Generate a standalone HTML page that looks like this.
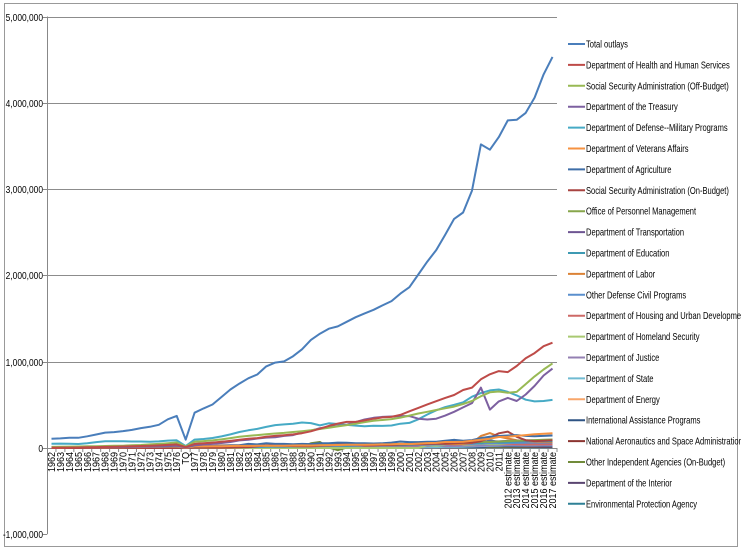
<!DOCTYPE html>
<html><head><meta charset="utf-8"><style>
body{margin:0;background:#fff;}
svg{display:block;font-family:"Liberation Sans",sans-serif;}
</style></head><body>
<svg id="chart" width="741" height="551" viewBox="0 0 741 551" xmlns="http://www.w3.org/2000/svg">
<rect x="4.5" y="3.5" width="733" height="543" fill="#fff" stroke="#999"/>
<g id="grid"></g><g id="yaxis"></g><g id="xaxis"></g><g id="series"></g><g id="legend"></g>
</svg>
<script>
const categories=["1962","1963","1964","1965","1966","1967","1968","1969","1970","1971","1972","1973","1974","1975","1976","TQ","1977","1978","1979","1980","1981","1982","1983","1984","1985","1986","1987","1988","1989","1990","1991","1992","1993","1994","1995","1996","1997","1998","1999","2000","2001","2002","2003","2004","2005","2006","2007","2008","2009","2010","2011","2012 estimate","2013 estimate","2014 estimate","2015 estimate","2016 estimate","2017 estimate"];
const yTicks=[-1000000,0,1000000,2000000,3000000,4000000,5000000];
const yTickLabels=["-1,000,000","0","1,000,000","2,000,000","3,000,000","4,000,000","5,000,000"];
const seriesNames=["Total outlays","Department of Health and Human Services","Social Security Administration (Off-Budget)","Department of the Treasury","Department of Defense--Military Programs","Department of Veterans Affairs","Department of Agriculture","Social Security Administration (On-Budget)","Office of Personnel Management","Department of Transportation","Department of Education","Department of Labor","Other Defense Civil Programs","Department of Housing and Urban Development","Department of Homeland Security","Department of Justice","Department of State","Department of Energy","International Assistance Programs","National Aeronautics and Space Administration","Other Independent Agencies (On-Budget)","Department of the Interior","Environmental Protection Agency"];
const seriesColors=["#4A7EBB","#BE4B48","#98B954","#7D60A0","#46AAC5","#F69240","#3E6EA8","#A84441","#87A64B","#6E5592","#3D9AB3","#DB8236","#5A8FCD","#CD6966","#A9C971","#9480B3","#70BBD2","#F8A66A","#2E5384","#8B3430","#718B3A","#5A4571","#2F8096"];
const s_total=[107,111,119,118,135,157,178,184,196,210,231,246,269,332,372,96,409,459,504,591,678,746,808,852,946,990,1004,1064,1144,1253,1324,1382,1409,1462,1516,1560,1601,1652,1702,1789,1863,2011,2160,2293,2472,2655,2729,2983,3518,3456,3603,3796,3803,3883,4060,4329,4532];
const s_hhs=[4,5,5,6,8,11,13,15,17,20,23,26,30,36,42,11,48,56,63,72,82,95,108,115,130,140,148,158,172,194,224,256,283,303,303,320,340,355,360,383,425,465,505,542,580,614,672,700,796,854,891,880,950,1040,1100,1180,1220];
const s_ssoff=[13,15,16,17,20,21,23,25,27,32,35,42,48,56,64,17,72,80,88,100,115,130,140,150,160,168,175,185,195,205,220,235,250,265,282,300,315,325,335,352,375,400,420,440,460,480,510,545,600,645,655,640,650,740,830,910,980];
const s_treas=[6,7,7,8,8,9,10,11,12,13,14,15,18,22,25,7,30,40,48,58,70,88,95,110,120,125,140,150,180,200,230,245,255,270,300,330,350,360,365,370,370,340,330,340,375,420,470,520,700,445,540,580,545,620,720,840,920];
const s_def=[50,51,50,46,54,68,78,79,78,75,75,73,77,86,89,22,97,104,116,134,158,185,205,221,245,265,274,281,295,289,262,286,278,268,259,253,258,256,261,281,291,332,388,437,474,499,528,595,636,667,678,650,610,560,540,545,557];
function smallSeries(a){return a;}
const s_va=[5,5,6,6,6,7,7,8,9,10,11,12,14,17,18,4,18,19,20,21,23,24,24,26,27,26,27,29,30,29,31,34,35,37,38,37,39,42,43,47,45,51,57,59,70,70,73,85,96,108,127,130,140,150,160,165,170];
const s_agri=[7,8,9,9,8,8,9,10,9,10,12,14,12,14,14,4,17,21,24,27,30,32,48,42,55,48,47,44,47,45,54,56,63,60,56,54,52,54,63,75,68,68,73,72,85,94,84,91,115,130,139,145,150,140,135,140,145];
const s_sson=[0,0,0,0,0,0,0,0,0,0,0,0,0,0,0,0,2,2,3,4,5,7,11,20,30,30,25,22,20,20,25,30,40,45,40,30,32,35,35,40,42,45,48,50,50,55,60,60,80,120,170,190,130,90,80,85,90];
const s_opm=[2,2,2,3,3,3,3,3,3,4,4,5,6,7,8,2,10,12,13,15,18,20,21,23,24,25,27,29,31,32,35,36,36,38,41,42,45,46,47,48,50,52,55,57,59,63,63,65,72,70,75,80,85,88,91,95,98];
const s_trans=[4,4,5,5,5,5,5,6,7,8,8,9,9,10,13,3,14,16,18,22,23,21,21,24,25,27,26,26,26,28,30,32,35,36,38,38,40,42,42,42,55,62,50,54,56,60,62,64,73,78,77,82,84,86,88,90,92];
const s_edu=[1,1,1,2,3,4,4,4,4,5,6,6,7,8,8,2,9,12,13,15,17,15,15,15,17,18,16,18,21,23,25,26,31,24,31,30,30,31,32,34,36,46,57,63,73,94,66,66,53,93,65,70,75,80,85,80,78];
const s_labor=[5,4,4,4,3,3,3,4,5,8,10,9,11,17,26,6,23,23,23,30,31,31,38,25,24,25,24,22,23,26,34,47,45,37,33,32,31,31,33,32,40,64,70,57,47,43,48,59,139,173,132,110,90,80,75,72,70];
const s_odc=[1,1,1,1,1,1,2,2,2,2,3,3,4,4,5,1,5,6,7,8,9,10,11,12,13,14,16,17,19,21,22,24,26,27,28,30,31,32,32,33,35,37,39,41,43,45,47,48,52,55,54,58,59,60,62,63,65];
const s_hud=[1,1,1,1,1,2,3,1,2,2,3,3,5,7,7,2,6,8,10,13,15,15,15,16,28,14,15,19,20,21,23,25,26,26,29,25,27,30,32,30,34,32,37,45,43,42,45,49,61,60,57,50,45,42,43,44,45];
const s_dhs=[0,0,0,0,0,0,0,0,0,0,0,0,0,0,0,0,0,0,0,0,0,0,0,0,0,0,0,0,0,0,0,0,0,0,0,0,0,0,0,0,0,0,32,26,38,69,39,40,51,45,45,48,46,44,45,46,48];
const s_just=[1,1,1,1,1,1,1,1,1,1,2,2,2,2,2,1,2,3,3,3,3,3,3,4,4,4,5,5,6,7,8,9,10,10,11,12,14,16,18,18,20,22,22,29,22,23,27,26,28,30,30,32,31,29,29,30,31];
const s_state=[1,1,1,1,1,1,1,1,1,1,1,1,1,1,1,0,1,1,2,2,2,2,2,3,3,3,3,3,4,4,4,5,5,6,6,5,6,6,6,7,8,9,10,11,13,13,14,18,22,24,27,30,29,28,28,29,30];
const s_energy=[3,3,3,3,2,2,2,2,2,2,2,2,3,4,5,1,6,8,8,8,11,12,11,11,11,11,11,11,12,12,13,16,17,17,17,16,14,15,16,15,17,18,20,20,22,20,20,21,24,31,32,34,38,32,30,29,29];
const s_intl=[4,4,4,4,4,4,4,4,4,4,4,4,5,5,5,1,5,7,7,12,13,12,12,14,16,14,11,10,10,14,16,16,11,17,11,10,10,13,15,12,11,13,14,14,15,13,13,11,14,20,20,22,23,22,22,22,22];
const s_nasa=[1,3,4,5,6,5,4,4,4,3,3,3,3,3,4,1,4,4,4,5,5,6,7,7,7,8,8,9,11,12,13,14,14,14,14,14,14,14,13,13,14,15,15,15,16,16,16,18,19,19,18,18,18,18,18,18,18];
const s_oia=[2,2,2,2,3,3,3,3,3,3,3,3,4,4,4,1,4,4,5,5,5,5,5,5,6,6,5,5,10,55,70,5,-25,5,5,6,6,7,8,9,10,11,12,12,13,14,15,40,20,10,12,13,14,15,16,17,18];
const s_int=[1,1,1,1,1,1,1,1,1,1,2,2,2,2,2,1,3,3,4,4,4,4,4,5,5,5,5,5,5,6,6,7,7,7,7,6,7,7,8,8,8,10,9,9,9,9,11,10,12,14,13,13,13,12,12,12,12];
const s_epa=[0,0,0,0,0,0,0,0,1,1,1,1,2,3,3,1,4,4,5,5,5,5,4,4,4,4,4,4,5,5,5,5,6,6,6,6,6,6,7,7,8,8,8,8,8,8,8,7,8,11,11,10,9,9,9,9,9];
const allSeries=[s_total,s_hhs,s_ssoff,s_treas,s_def,s_va,s_agri,s_sson,s_opm,s_trans,s_edu,s_labor,s_odc,s_hud,s_dhs,s_just,s_state,s_energy,s_intl,s_nasa,s_oia,s_int,s_epa];

const NS="http://www.w3.org/2000/svg";
const X0=47,X1=557,Y0=448,PXM=86.3;
const step=(X1-X0)/categories.length;
function xPos(i){return X0+step*(i+0.5);}
function yPos(v){return Y0-v/1000000*PXM;}
function mk(tag,attrs,parent){const e=document.createElementNS(NS,tag);for(const k in attrs)e.setAttribute(k,attrs[k]);parent.appendChild(e);return e;}
const grid=document.getElementById('grid'),ya=document.getElementById('yaxis'),xa=document.getElementById('xaxis'),sg=document.getElementById('series'),lg=document.getElementById('legend');
yTicks.forEach((t,i)=>{
  const y=Math.round(yPos(t))+0.5;
  if(t>0){const g=mk('line',{x1:X0,x2:X1,y1:y,y2:y,stroke:'#8c8c8c','stroke-width':1},grid);
  
  }
  const tk=mk('line',{x1:X0-4,x2:X0,y1:y,y2:y,stroke:'#888'},ya);
  
  
  const tx=mk('text',{x:X0-4,y:y+3.5,'text-anchor':'end','font-size':'10.5',fill:'#000',transform:`translate(${X0-4},0) scale(0.8,1) translate(${-(X0-4)},0)`},ya);
  tx.textContent=yTickLabels[i];
  
  
});
const yax=mk('line',{x1:X0+0.5,x2:X0+0.5,y1:yPos(5000000),y2:yPos(-1000000),stroke:'#888'},ya);


const xax=mk('line',{x1:X0,x2:X1,y1:Y0+0.5,y2:Y0+0.5,stroke:'#888'},xa);


categories.forEach((c,i)=>{
  const x=xPos(i);
  const tk=mk('line',{x1:X0+step*(i+1),x2:X0+step*(i+1),y1:Y0,y2:Y0+4,stroke:'#888'},xa);
  
  
  const t=mk('text',{x:0,y:0,'text-anchor':'end','font-size':'10',fill:'#000',transform:`translate(${x+3.5},${Y0+4}) rotate(-90) scale(0.9,1)`},xa);
  t.textContent=c;
  
  
});
for(let s=allSeries.length-1;s>=0;s--){
  const d=allSeries[s].map((v,i)=>xPos(i).toFixed(1)+','+yPos(v*1000).toFixed(1)).join(' ');
  const p=mk('polyline',{points:d,fill:'none',stroke:seriesColors[s],'stroke-width':2,'stroke-linejoin':'round'},sg);
  
  
}
seriesNames.forEach((n,i)=>{
  const y=44+i*20.9;
  const g=mk('g',{},lg);
  
  
  mk('line',{x1:568,x2:585,y1:y,y2:y,stroke:seriesColors[i],'stroke-width':2},g);
  const t=mk('text',{x:0,y:0,'font-size':'10.5',fill:'#000',transform:`translate(586,${y+3.5}) scale(0.72,1)`},g);
  t.textContent=n;
});
</script>
</body></html>
